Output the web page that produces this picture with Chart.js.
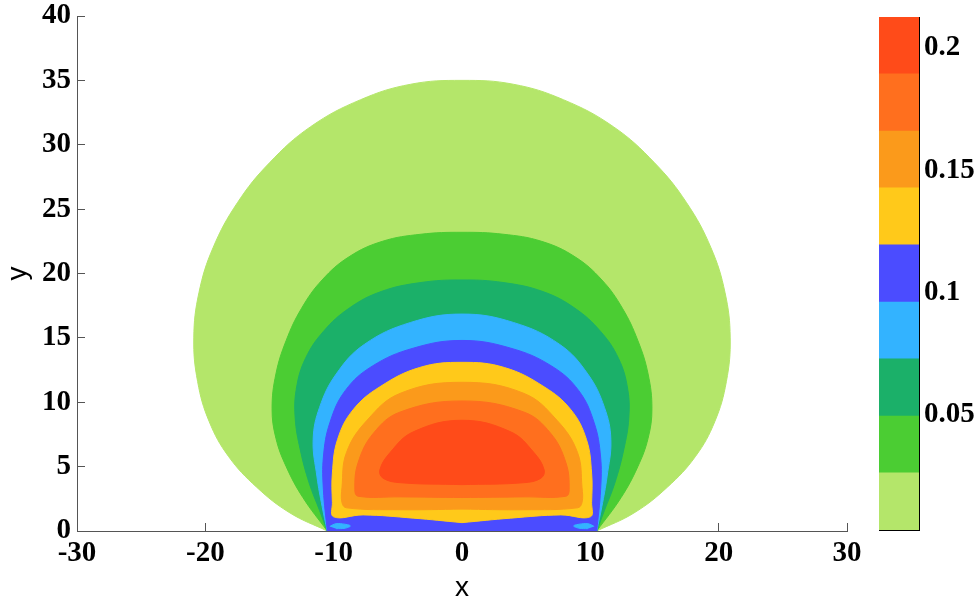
<!DOCTYPE html>
<html>
<head>
<meta charset="utf-8">
<script src="https://cdn.jsdelivr.net/npm/chart.js@4.4.0/dist/chart.umd.min.js"></script>
<style>
  body { margin: 0; background: #fff; }
  #wrap { position: relative; width: 980px; height: 603px; }
  #contour { position: absolute; left: 0; top: 0; }
  #colorbar { position: absolute; left: 860px; top: 0; }
</style>
</head>
<body>
<div id="wrap">
  <canvas id="contour" width="980" height="603"></canvas>
  <canvas id="colorbar" width="120" height="603"></canvas>
</div>
<script>
// contour levels, one colour per band (low -> high)
const levels = [0.0025, 0.0259, 0.0492, 0.0726, 0.0959, 0.1193, 0.1427, 0.1660, 0.1894, 0.2127];
const bandColors = ['#b4e66a', '#4bcd33', '#1bb069', '#33b3ff', '#4b4cff', '#ffc91a', '#fb9a1b', '#ff6f1e', '#ff4b19'];
const colorbarTicks = [0.05, 0.1, 0.15, 0.2];
const colorbarLabels = ['0.05', '0.1', '0.15', '0.2'];
const xTicks = [-30, -20, -10, 0, 10, 20, 30];
const yTicks = [0, 5, 10, 15, 20, 25, 30, 35, 40];

// left half of each contour line, from the bottom up to the top (x = 0); right half is the mirror
const lvl1X = [-10.5, -13.4, -16.0, -18.2, -19.7, -20.6, -20.9, -20.5, -19.4, -17.5, -15.0, -11.8, -7.9, -4.0, 0];
const lvl1Y = [0, 1.4, 3.4, 5.8, 8.5, 11.6, 15.0, 18.5, 22.0, 25.5, 28.6, 31.4, 33.5, 34.7, 35.0];
const lvl2X = [-10.5, -12.4, -13.7, -14.5, -14.8, -14.5, -13.7, -12.5, -10.9, -8.8, -6.2, -3.2, 0];
const lvl2Y = [0, 2.6, 5.0, 7.2, 9.5, 12.2, 14.8, 17.3, 19.5, 21.3, 22.5, 23.05, 23.2];
const lvl3X = [-10.5, -11.1, -11.9, -12.6, -13.0, -12.9, -12.2, -10.8, -8.8, -6.3, -3.2, 0];
const lvl3Y = [0, 1.6, 3.7, 6.3, 8.8, 11.1, 13.4, 15.5, 17.3, 18.6, 19.3, 19.5];
const lvl4X = [-10.5, -10.9, -11.3, -11.6, -11.1, -9.8, -7.6, -4.0, 0];
const lvl4Y = [0, 1.9, 4.2, 7.1, 9.6, 12.2, 14.5, 16.2, 16.85];
const lvl5X = [-10.5, -10.8, -10.8, -10.3, -9.1, -7.0, -3.8, 0];
const lvl5Y = [0, 3.2, 5.75, 8.4, 10.9, 12.8, 14.2, 14.8];
const lvl6X = [0, -3.8, -7.7, -10.0, -10.1, -10.1, -9.7, -8.5, -6.4, -3.3, 0];
const lvl6Y = [0.65, 1.0, 1.25, 1.1, 2.2, 4.5, 7.1, 9.4, 11.2, 12.7, 13.1];
const lvl7X = [0, -4.8, -9.0, -9.35, -9.35, -9.0, -7.4, -4.8, 0];
const lvl7Y = [1.7, 1.65, 1.8, 2.2, 3.4, 6.1, 8.6, 10.7, 11.55];
const lvl8X = [0, -4.8, -8.1, -8.35, -8.1, -6.9, -4.8, 0];
const lvl8Y = [2.6, 2.65, 2.7, 3.2, 5.3, 7.6, 9.25, 10.1];
const lvl9X = [0, -4.8, -6.15, -6.4, -5.6, -3.8, 0];
const lvl9Y = [3.6, 3.75, 4.1, 4.75, 6.1, 7.7, 8.6];
// small low pocket near the left foot (mirrored on the right)
const pocketX = [-10.3, -9.9, -9.3, -8.7, -9.1, -9.8];
const pocketY = [0.35, 0.55, 0.55, 0.4, 0.22, 0.18];

const axisColor = '#555';
const tickFont = { family: '"Liberation Serif", "Times New Roman", serif', size: 29, weight: 'bold' };
const titleFont = { family: '"Liberation Sans", Arial, sans-serif', size: 28, lineHeight: 1 };

function toPoints(xs, ys) {
    return xs.map(function (x, i) { return { x: x, y: ys[i] }; });
}

function mirrored(xs, ys) {
    const left = toPoints(xs, ys);
    const right = left.slice().reverse().slice(1).map(function (p) { return { x: -p.x, y: p.y }; });
    return left.concat(right);
}

function shapeDataset(points, color, order) {
    return {
        data: points,
        showLine: true,
        fill: 'shape',
        tension: 0.4,
        backgroundColor: color,
        borderColor: color,
        borderWidth: 1,
        pointRadius: 0,
        order: order
    };
}

const contours = [
    [lvl1X, lvl1Y], [lvl2X, lvl2Y], [lvl3X, lvl3Y], [lvl4X, lvl4Y], [lvl5X, lvl5Y],
    [lvl6X, lvl6Y], [lvl7X, lvl7Y], [lvl8X, lvl8Y], [lvl9X, lvl9Y]
];

const datasets = contours.map(function (c, i) {
    return shapeDataset(mirrored(c[0], c[1]), bandColors[i], 20 - i);
});
datasets.push(shapeDataset(toPoints(pocketX, pocketY), bandColors[3], 2));
datasets.push(shapeDataset(toPoints(pocketX.map(function (x) { return -x; }), pocketY), bandColors[3], 1));

function fixedTicks(values) {
    return function (scale) { scale.ticks = values.map(function (v) { return { value: v }; }); };
}

new Chart(document.getElementById('contour'), {
    type: 'scatter',
    data: { datasets: datasets },
    options: {
        responsive: false,
        animation: false,
        layout: { padding: { left: 0, top: 16, right: 133, bottom: 0 } },
        plugins: { legend: { display: false }, tooltip: { enabled: false } },
        scales: {
            x: {
                type: 'linear', min: -30, max: 30, z: 1,
                afterBuildTicks: fixedTicks(xTicks),
                afterFit: function (s) { s.height = 72; s.paddingLeft = 0; s.paddingRight = 0; },
                grid: { drawOnChartArea: false, drawTicks: true, tickLength: -8, color: axisColor },
                border: { color: axisColor, width: 1 },
                ticks: { color: '#000', font: tickFont, padding: 13, maxRotation: 0, autoSkip: false },
                title: { display: true, text: 'x', color: '#000', font: titleFont, padding: { top: 0, bottom: 1 } }
            },
            y: {
                type: 'linear', min: 0, max: 40, z: 1,
                afterBuildTicks: fixedTicks(yTicks),
                afterFit: function (s) { s.width = 77; s.paddingTop = 0; s.paddingBottom = 0; },
                grid: { drawOnChartArea: false, drawTicks: true, tickLength: -8, color: axisColor },
                border: { color: axisColor, width: 1 },
                ticks: { color: '#000', font: tickFont, padding: 14, autoSkip: false },
                title: { display: true, text: 'y', color: '#000', font: titleFont, padding: { top: 4, bottom: 0 } }
            }
        }
    }
});

new Chart(document.getElementById('colorbar'), {
    type: 'bar',
    data: {
        labels: [''],
        datasets: bandColors.map(function (c, i) {
            return {
                data: [[levels[i], levels[i + 1]]],
                backgroundColor: c,
                borderWidth: 0,
                barPercentage: 1,
                categoryPercentage: 1,
                grouped: false
            };
        })
    },
    options: {
        responsive: false,
        animation: false,
        layout: { padding: { left: 19, top: 17, right: 0, bottom: 73 } },
        plugins: { legend: { display: false }, tooltip: { enabled: false } },
        scales: {
            x: {
                z: 1,
                ticks: { display: false },
                grid: { display: false },
                border: { display: true, color: '#000', width: 1 },
                afterFit: function (s) { s.height = 0; }
            },
            xTop: {
                type: 'category', position: 'top', z: 1,
                ticks: { display: false },
                grid: { display: false },
                border: { display: true, color: '#000', width: 1 },
                afterFit: function (s) { s.height = 0; }
            },
            y: {
                position: 'right', min: levels[0], max: levels[levels.length - 1], z: 1,
                afterBuildTicks: fixedTicks(colorbarTicks),
                afterFit: function (s) { s.width = 61; s.paddingTop = 0; s.paddingBottom = 0; },
                grid: { drawOnChartArea: false, drawTicks: true, tickLength: -5, color: '#222' },
                border: { color: '#000', width: 1 },
                ticks: {
                    color: '#000', font: tickFont, padding: 10, autoSkip: false,
                    callback: function (v, i) { return colorbarLabels[i]; }
                }
            },
            yLeft: {
                position: 'left', min: levels[0], max: levels[levels.length - 1], z: 1,
                afterBuildTicks: fixedTicks(colorbarTicks),
                afterFit: function (s) { s.width = 0; s.paddingTop = 0; s.paddingBottom = 0; },
                grid: { drawOnChartArea: false, drawTicks: true, tickLength: -5, color: '#222' },
                border: { color: '#000', width: 1 },
                ticks: { display: false }
            }
        }
    }
});
</script>
</body>
</html>
